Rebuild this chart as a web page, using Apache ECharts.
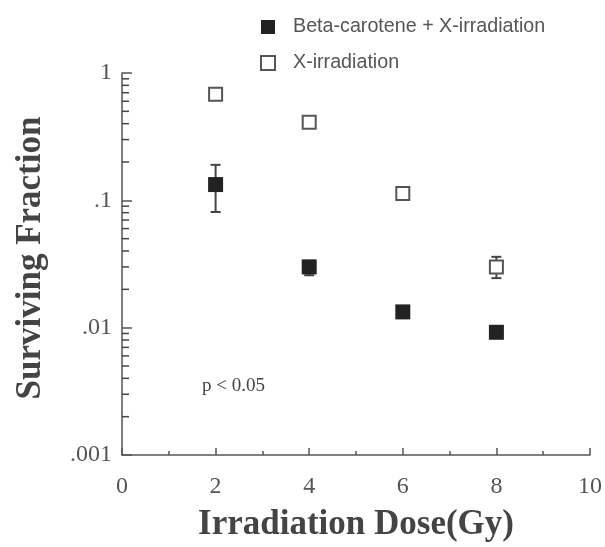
<!DOCTYPE html>
<html><head><meta charset="utf-8">
<script src="https://cdn.jsdelivr.net/npm/echarts@6/dist/echarts.min.js"></script>
<style>html,body{margin:0;padding:0;background:#fff}#c{width:605px;height:547px}</style>
</head><body><div id="c"></div>
<script>
var doses = [2, 4, 6, 8];
var betaMean = [0.133, 0.030, 0.0133, 0.0092];
var betaLow = [0.081, 0.0258, 0.0119, 0.0092];
var betaHigh = [0.19, 0.0335, 0.0146, 0.0092];
var xrayMean = [0.68, 0.41, 0.113, 0.030];
var xrayLow = [0.68, 0.41, 0.113, 0.0245];
var xrayHigh = [0.68, 0.41, 0.113, 0.036];
var yTickLabels = {1: '1', 0.1: '.1', 0.01: '.01', 0.001: '.001'};
var minorVals = [];
[0.001, 0.01, 0.1].forEach(function (d) { for (var k = 2; k <= 9; k++) minorVals.push([0, +(d * k).toPrecision(3)]); });

var chart = echarts.init(document.getElementById('c'));
var serif = 'Liberation Serif, Times New Roman, serif';
var axisColor = '#555';

function errItem(params, api) {
  var x = api.value(0), lo = api.value(1), hi = api.value(2);
  if (lo === hi) return null;
  var a = api.coord([x, hi]), b = api.coord([x, lo]);
  var w = 5;
  return { type: 'group', children: [
    { type: 'line', shape: { x1: a[0], y1: a[1], x2: b[0], y2: b[1] }, style: { stroke: '#444', lineWidth: 2 } },
    { type: 'line', shape: { x1: a[0] - w, y1: a[1], x2: a[0] + w, y2: a[1] }, style: { stroke: '#444', lineWidth: 2 } },
    { type: 'line', shape: { x1: b[0] - w, y1: b[1], x2: b[0] + w, y2: b[1] }, style: { stroke: '#444', lineWidth: 2 } }
  ]};
}

chart.setOption({
  animation: false,
  backgroundColor: '#fff',
  grid: { left: 122, right: 15, top: 73, bottom: 91 },
  legend: {
    orient: 'vertical', left: 255, top: 12, itemGap: 16, itemWidth: 14, itemHeight: 14,
    icon: 'rect',
    textStyle: { color: '#555', fontSize: 19.7, lineHeight: 18, padding: [0, 0, 0, 13], fontFamily: 'Liberation Sans, Arial, sans-serif' },
    data: ['Beta-carotene + X-irradiation', 'X-irradiation']
  },
  xAxis: {
    type: 'value', min: 0, max: 10, interval: 2,
    name: 'Irradiation Dose(Gy)', nameLocation: 'middle', nameGap: 52,
    nameTextStyle: { fontFamily: serif, fontWeight: 'bold', fontSize: 35, color: '#444' },
    axisLine: { lineStyle: { color: axisColor, width: 1.5 } },
    axisTick: { inside: true, length: 7, lineStyle: { color: axisColor, width: 1.5 } },
    minorTick: { show: true, splitNumber: 2, length: 4, lineStyle: { color: axisColor, width: 1.5 } },
    splitLine: { show: false },
    axisLabel: { fontFamily: serif, fontSize: 24, color: '#555', margin: 20 }
  },
  yAxis: {
    type: 'log', logBase: 10, min: 0.001, max: 1,
    name: 'Surviving Fraction', nameLocation: 'middle', nameGap: 74,
    nameTextStyle: { fontFamily: serif, fontWeight: 'bold', fontSize: 35, color: '#444', padding: [0, 0, 0, 12] },
    axisLine: { show: true, lineStyle: { color: axisColor, width: 1.5 } },
    axisTick: { inside: true, length: 10, lineStyle: { color: axisColor, width: 1.5 } },
    minorTick: { show: false },
    splitLine: { show: false },
    axisLabel: { fontFamily: serif, fontSize: 24, color: '#555', margin: 10,
      formatter: function (v) { var k = +v.toPrecision(3); return yTickLabels[k] !== undefined ? yTickLabels[k] : ''; } }
  },
  graphic: [{ type: 'text', left: 202, top: 377, style: { text: 'p < 0.05', fontFamily: serif, fontSize: 19, fill: '#444' } }],
  series: [
    { type: 'custom', silent: true, z: 1, clip: false,
      data: minorVals,
      renderItem: function (params, api) {
        var p = api.coord([api.value(0), api.value(1)]);
        return { type: 'line', shape: { x1: p[0], y1: p[1], x2: p[0] + 7, y2: p[1] }, style: { stroke: '#444', lineWidth: 1.5 } };
      } },
    { type: 'custom', silent: true, z: 2,
      data: doses.map(function (d, i) { return [d, betaLow[i], betaHigh[i]]; }), renderItem: errItem },
    { type: 'custom', silent: true, z: 2,
      data: doses.map(function (d, i) { return [d, xrayLow[i], xrayHigh[i]]; }), renderItem: errItem },
    { name: 'Beta-carotene + X-irradiation', type: 'scatter', z: 5, symbol: 'rect', symbolSize: 15,
      itemStyle: { color: '#222', opacity: 1 },
      data: doses.map(function (d, i) { return [d, betaMean[i]]; }) },
    { name: 'X-irradiation', type: 'scatter', z: 5, symbol: 'rect', symbolSize: 13,
      itemStyle: { color: '#fff', borderColor: '#555', borderWidth: 2, opacity: 1 },
      data: doses.map(function (d, i) { return [d, xrayMean[i]]; }) }
  ]
});
</script></body></html>
